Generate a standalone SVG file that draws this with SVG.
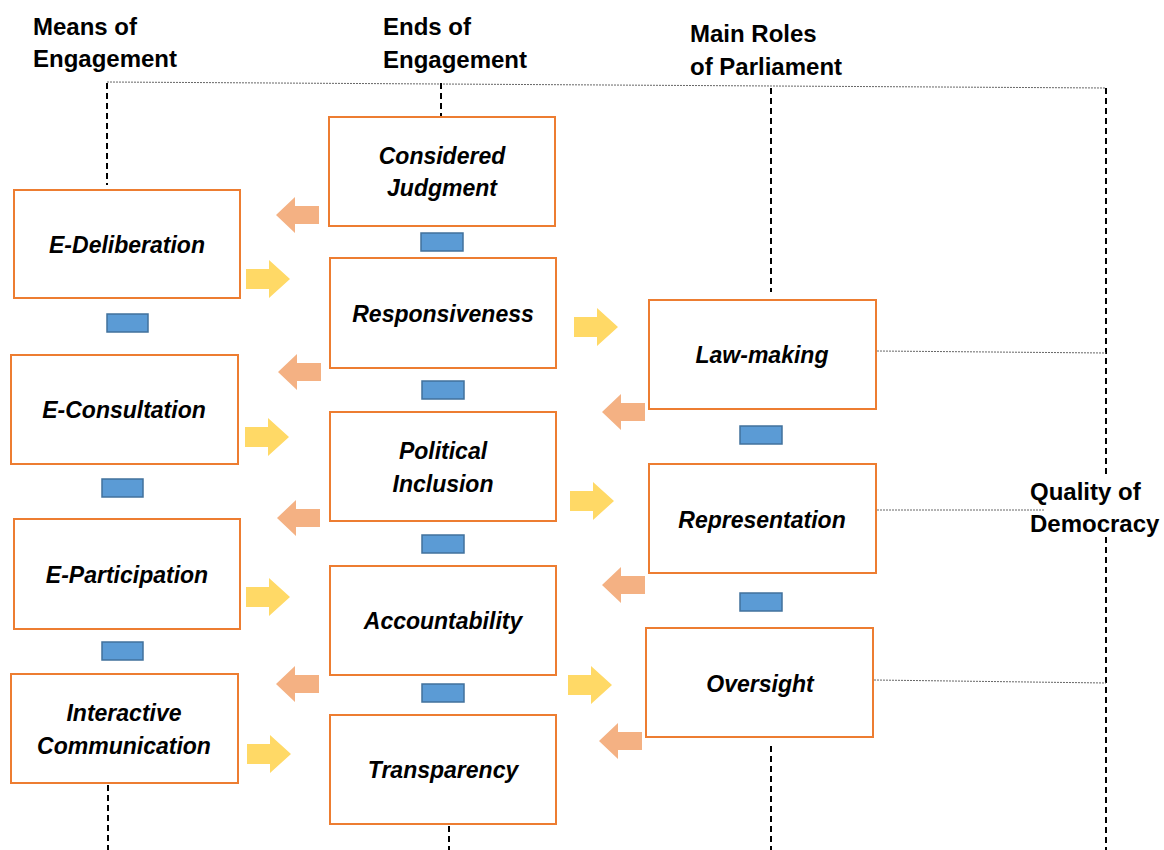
<svg xmlns="http://www.w3.org/2000/svg" width="1164" height="850" viewBox="0 0 1164 850">
  <style>
    .box { fill: #ffffff; stroke: #ed7d31; stroke-width: 2; }
    .link { fill: #5b9bd5; stroke: #41719c; stroke-width: 1.5; }
    .lbl { font-family: "Liberation Sans", Arial, sans-serif; font-size: 23px; font-weight: bold; font-style: italic; fill: #000; text-anchor: middle; }
    .head { font-family: "Liberation Sans", Arial, sans-serif; font-size: 24px; font-weight: bold; fill: #000; }
    .axis { stroke: #000; stroke-width: 2; stroke-dasharray: 6 4; fill: none; }
    .dot { stroke: #666; stroke-width: 1; stroke-dasharray: 2 1; fill: none; }
    .fwd { fill: #ffd966; }
    .back { fill: #f4b183; }
  </style>
  <defs>
    <!-- block arrows: origin at the tail, centred vertically -->
    <path id="arrowRight" d="M0,-10 H23 V-19 L44,0 L23,19 V10 H0 Z"/>
    <path id="arrowLeft" d="M0,-9 H-24 V-18 L-43,0 L-24,18 V9 H0 Z"/>
  </defs>
  <rect width="1164" height="850" fill="#ffffff"/>

  <!-- column headings -->
  <g id="headings">
    <text class="head" x="33" y="35">Means of</text>
    <text class="head" x="33" y="67">Engagement</text>
    <text class="head" x="383" y="35">Ends of</text>
    <text class="head" x="383" y="68">Engagement</text>
    <text class="head" x="690" y="42">Main Roles</text>
    <text class="head" x="690" y="75">of Parliament</text>
    <text class="head" x="1030" y="500">Quality of</text>
    <text class="head" x="1030" y="532">Democracy</text>
  </g>

  <!-- guide lines and connectors -->
  <g id="connectors">
    <line class="dot" x1="107" y1="82" x2="1106" y2="88"/>
    <line class="axis" x1="107" y1="83" x2="107" y2="185"/>
    <line class="axis" x1="108" y1="785" x2="108" y2="850"/>
    <line class="axis" x1="441" y1="83" x2="441" y2="117"/>
    <line class="axis" x1="449" y1="826" x2="449" y2="850"/>
    <line class="axis" x1="771" y1="88" x2="771" y2="292"/>
    <line class="axis" x1="771" y1="746" x2="771" y2="850"/>
    <line class="axis" x1="1106" y1="88" x2="1106" y2="478"/>
    <line class="axis" x1="1106" y1="537" x2="1106" y2="850"/>
    <line class="dot" x1="877" y1="351" x2="1106" y2="353"/>
    <line class="dot" x1="877" y1="510" x2="1045" y2="510"/>
    <line class="dot" x1="874" y1="680" x2="1106" y2="683"/>

    <!-- forward arrows -->
    <use href="#arrowRight" class="fwd" x="246" y="279"/>
    <use href="#arrowRight" class="fwd" x="245" y="437"/>
    <use href="#arrowRight" class="fwd" x="246" y="597"/>
    <use href="#arrowRight" class="fwd" x="247" y="754"/>
    <use href="#arrowRight" class="fwd" x="574" y="327"/>
    <use href="#arrowRight" class="fwd" x="570" y="501"/>
    <use href="#arrowRight" class="fwd" x="568" y="685"/>

    <!-- feedback arrows -->
    <use href="#arrowLeft" class="back" x="319" y="215"/>
    <use href="#arrowLeft" class="back" x="321" y="372"/>
    <use href="#arrowLeft" class="back" x="320" y="518"/>
    <use href="#arrowLeft" class="back" x="319" y="684"/>
    <use href="#arrowLeft" class="back" x="645" y="412"/>
    <use href="#arrowLeft" class="back" x="645" y="585"/>
    <use href="#arrowLeft" class="back" x="642" y="741"/>

    <!-- links between stacked boxes -->
    <rect class="link" x="107" y="314" width="41" height="18"/>
    <rect class="link" x="102" y="479" width="41" height="18"/>
    <rect class="link" x="102" y="642" width="41" height="18"/>
    <rect class="link" x="421" y="233" width="42" height="18"/>
    <rect class="link" x="422" y="381" width="42" height="18"/>
    <rect class="link" x="422" y="535" width="42" height="18"/>
    <rect class="link" x="422" y="684" width="42" height="18"/>
    <rect class="link" x="740" y="426" width="42" height="18"/>
    <rect class="link" x="740" y="593" width="42" height="18"/>
  </g>

  <!-- means of engagement -->
  <g id="e-deliberation">
    <rect class="box" x="14" y="190" width="226" height="108"/>
    <text class="lbl" x="127" y="253">E-Deliberation</text>
  </g>
  <g id="e-consultation">
    <rect class="box" x="11" y="355" width="227" height="109"/>
    <text class="lbl" x="124" y="418">E-Consultation</text>
  </g>
  <g id="e-participation">
    <rect class="box" x="14" y="519" width="226" height="110"/>
    <text class="lbl" x="127" y="583">E-Participation</text>
  </g>
  <g id="interactive-communication">
    <rect class="box" x="11" y="674" width="227" height="109"/>
    <text class="lbl" x="124" y="721">Interactive</text>
    <text class="lbl" x="124" y="754">Communication</text>
  </g>

  <!-- ends of engagement -->
  <g id="considered-judgment">
    <rect class="box" x="329" y="117" width="226" height="109"/>
    <text class="lbl" x="442" y="164">Considered</text>
    <text class="lbl" x="442" y="196">Judgment</text>
  </g>
  <g id="responsiveness">
    <rect class="box" x="330" y="258" width="226" height="110"/>
    <text class="lbl" x="443" y="322">Responsiveness</text>
  </g>
  <g id="political-inclusion">
    <rect class="box" x="330" y="412" width="226" height="109"/>
    <text class="lbl" x="443" y="459">Political</text>
    <text class="lbl" x="443" y="492">Inclusion</text>
  </g>
  <g id="accountability">
    <rect class="box" x="330" y="566" width="226" height="109"/>
    <text class="lbl" x="443" y="629">Accountability</text>
  </g>
  <g id="transparency">
    <rect class="box" x="330" y="715" width="226" height="109"/>
    <text class="lbl" x="443" y="778">Transparency</text>
  </g>

  <!-- main roles of parliament -->
  <g id="law-making">
    <rect class="box" x="649" y="300" width="227" height="109"/>
    <text class="lbl" x="762" y="363">Law-making</text>
  </g>
  <g id="representation">
    <rect class="box" x="649" y="464" width="227" height="109"/>
    <text class="lbl" x="762" y="528">Representation</text>
  </g>
  <g id="oversight">
    <rect class="box" x="646" y="628" width="227" height="109"/>
    <text class="lbl" x="760" y="692">Oversight</text>
  </g>
</svg>
